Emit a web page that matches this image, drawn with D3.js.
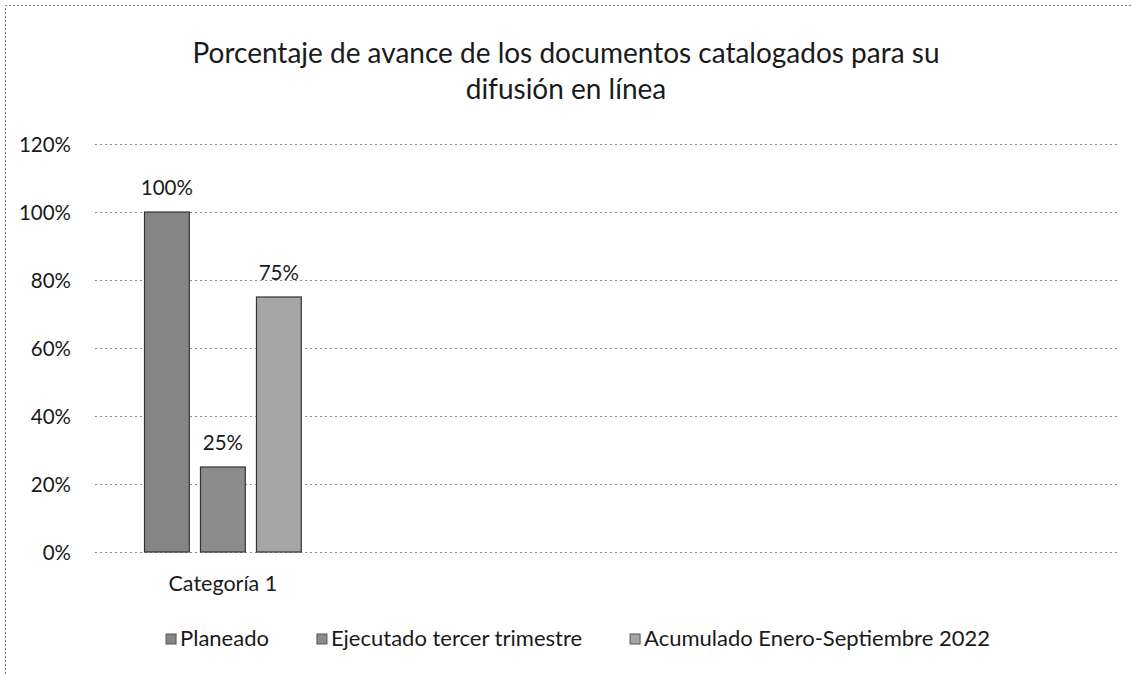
<!DOCTYPE html>
<html><head><meta charset="utf-8">
<script src="https://cdn.jsdelivr.net/npm/d3@7"></script>
<style>body{margin:0;background:#fff}svg{display:block}text{font-family:Lato,"Open Sans",sans-serif;fill:#1a1a1a}</style>
</head><body><svg id="c" width="1131" height="674"></svg>
<script>
const categories = ["Categoría 1", "cat2", "cat3", "cat4"];
const seriesNames = ["Planeado", "Ejecutado tercer trimestre", "Acumulado Enero-Septiembre 2022"];
const planeado = [1.00];
const ejecutado = [0.25];
const acumulado = [0.75];
const tickValues = [0, 0.2, 0.4, 0.6, 0.8, 1.0, 1.2];
const titleLines = ["Porcentaje de avance de los documentos catalogados para su", "difusión en línea"];
const colors = ["#858585", "#8c8c8c", "#a6a6a6"];

const svg = d3.select("#c");
const W = 1131, H = 674;
const m = {left: 95, right: 13, top: 144, bottom: 122};
const y = d3.scaleLinear().domain([0, 1.2]).range([H - m.bottom, m.top]);
const x = d3.scaleBand().domain(categories).range([m.left, W - m.right]);
const series = [planeado, ejecutado, acumulado];
const x1 = d3.scaleBand().domain(d3.range(3)).range([49.5, x.bandwidth() - 49.5]).paddingInner(0.2);

// frame
svg.append("path").attr("d", `M5.5,${H} V5.5 H${W}`).attr("fill","none").attr("stroke","#777").attr("stroke-dasharray","2,2");

// title
svg.selectAll(".title").data(titleLines).join("text")
  .attr("x", 566).attr("y", (d,i)=>63 + i*36).attr("text-anchor","middle")
  .style("font-size","28px").text(d=>d);

// grid
svg.append("g").selectAll("line").data(tickValues).join("line")
  .attr("x1", m.left).attr("x2", W - m.right)
  .attr("y1", d=>Math.round(y(d))+0.5).attr("y2", d=>Math.round(y(d))+0.5)
  .attr("stroke","#8a8a8a").attr("stroke-dasharray","2,3");

// y axis
const ya = svg.append("g").attr("transform",`translate(${m.left-21},0)`)
  .call(d3.axisLeft(y).tickValues(tickValues).tickFormat(d3.format(".0%")).tickSize(0));
ya.select(".domain").remove();
ya.selectAll("text").style("font-size","20.5px").style("font-family","Lato").attr("fill","#1a1a1a").attr("dy","0.35em");

// x axis
const xa = svg.append("g").attr("transform",`translate(0,${H-m.bottom})`)
  .call(d3.axisBottom(x).tickSize(0).tickFormat(d=>d==="Categoría 1"?d:""));
xa.select(".domain").remove();
xa.selectAll("text").style("font-size","21.5px").style("font-family","Lato").attr("fill","#1a1a1a").attr("y", 39).attr("dy", 0);

// bars
series.forEach((vals, si) => {
  const g = svg.append("g");
  g.selectAll("rect").data(vals).join("rect")
    .attr("x", (d,i)=>x(categories[i]) + x1(si))
    .attr("y", d=>y(d)).attr("width", x1.bandwidth()).attr("height", d=>y(0)-y(d))
    .attr("fill", colors[si]).attr("stroke","#333").attr("stroke-width",1.2);
  g.selectAll("text").data(vals).join("text")
    .attr("x", (d,i)=>x(categories[i]) + x1(si) + x1.bandwidth()/2)
    .attr("y", d=>y(d) - 17).attr("text-anchor","middle")
    .style("font-size","20.5px").text(d=>d3.format(".0%")(d));
});

// legend
const lg = svg.append("g");
const items = seriesNames.map((n, i) => {
  const g = lg.append("g");
  g.append("rect").attr("x", 0).attr("y", -12).attr("width", 10).attr("height", 10)
    .attr("fill", colors[i]).attr("stroke","#555");
  const t = g.append("text").attr("x", 14).attr("y", 0).style("font-size","22px").text(n);
  return {g, w: 14 + t.node().getComputedTextLength()};
});
const gap = 48;
const total = d3.sum(items, d=>d.w) + gap*(items.length-1);
let cx = 578 - total/2;
items.forEach(it => { it.g.attr("transform", `translate(${cx},646)`); cx += it.w + gap; });
</script></body></html>
